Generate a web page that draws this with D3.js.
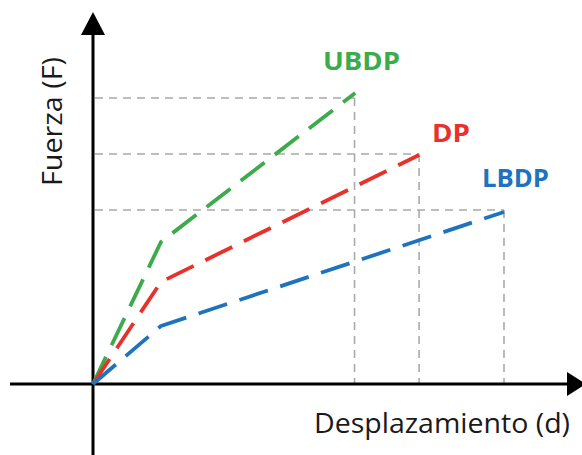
<!DOCTYPE html>
<html><head><meta charset="utf-8">
<script src="https://cdn.jsdelivr.net/npm/d3@7"></script>
<style>html,body{margin:0;padding:0;background:#fff;overflow:hidden}</style>
</head><body>
<svg id="c" width="582" height="455"></svg>
<script>
// Data (arbitrary units: displacement d, force F)
const seriesNames = ["UBDP", "DP", "LBDP"];
const seriesColors = ["#3cab4b", "#e8312a", "#1f73be"];
const dValues = [
  [0, 1, 3.86],   // UBDP
  [0, 1, 4.8],    // DP
  [0, 1, 6.05]    // LBDP
];
const fValues = [
  [0, 2.84, 5.82],
  [0, 2.04, 4.58],
  [0, 1.16, 3.44]
];
// guide (gray) levels read at each end point
const guideD = [3.85, 4.8, 6.05];
const guideF = [5.72, 4.6, 3.48];
const xLabel = "Desplazamiento (d)";
const yLabel = "Fuerza (F)";

const svg = d3.select("#c");
const x = d3.scaleLinear().domain([0, 6.05]).range([93, 504]);
const y = d3.scaleLinear().domain([0, 5.82]).range([384, 93]);

// gray guide lines
const g = svg.append("g");
seriesNames.forEach((n, i) => {
  const d = guideD[i], f = guideF[i];
  g.append("line").attr("x1", x(0) + 2).attr("x2", x(d)).attr("y1", y(f)).attr("y2", y(f))
    .attr("stroke", "#a9a9a9").attr("stroke-width", 1.6).attr("stroke-dasharray", "8,6");
  g.append("line").attr("x1", x(d)).attr("x2", x(d)).attr("y1", y(f)).attr("y2", y(0))
    .attr("stroke", "#a9a9a9").attr("stroke-width", 1.6).attr("stroke-dasharray", "8,6");
});

// axes
const ax = svg.append("g");
ax.append("line").attr("x1", 10).attr("x2", 568).attr("y1", y(0)).attr("y2", y(0))
  .attr("stroke", "#000").attr("stroke-width", 3);
ax.append("path").attr("d", `M567,${y(0)-12} L586,${y(0)} L567,${y(0)+12} Z`).attr("fill", "#000");
ax.append("line").attr("x1", x(0)).attr("x2", x(0)).attr("y1", 455).attr("y2", 34)
  .attr("stroke", "#000").attr("stroke-width", 3);
ax.append("path").attr("d", `M${x(0)-12},35 L${x(0)},12 L${x(0)+12},35 Z`).attr("fill", "#000");

// series lines
const line = d3.line().x(p => x(p[0])).y(p => y(p[1]));
seriesNames.forEach((n, i) => {
  const pts = dValues[i].map((d, j) => [d, fValues[i][j]]);
  svg.append("path").attr("d", line(pts)).attr("fill", "none")
    .attr("stroke", seriesColors[i]).attr("stroke-width", 3.8)
    .attr("stroke-dasharray", "30,13").attr("stroke-linejoin", "round");
});

// labels
const labelPos = [[323, 70], [432, 142], [482, 187]];
const labelW = [77, 38, 67];
seriesNames.forEach((n, i) => {
  svg.append("text").attr("x", labelPos[i][0]).attr("y", labelPos[i][1])
    .attr("fill", seriesColors[i]).attr("font-family", "Open Sans, sans-serif")
    .attr("font-weight", "bold").attr("font-size", 25)
    .attr("textLength", labelW[i]).attr("lengthAdjust", "spacingAndGlyphs").text(n);
});

svg.append("text").attr("x", 314).attr("y", 433).attr("font-family", "Open Sans, sans-serif")
  .attr("font-size", 27).attr("fill", "#1a1a1a")
  .attr("textLength", 256).attr("lengthAdjust", "spacingAndGlyphs").text(xLabel);
svg.append("text").attr("transform", "translate(62,186) rotate(-90)")
  .attr("font-family", "Open Sans, sans-serif").attr("font-size", 27).attr("fill", "#1a1a1a")
  .attr("textLength", 129).attr("lengthAdjust", "spacingAndGlyphs").text(yLabel);
</script>
</body></html>
